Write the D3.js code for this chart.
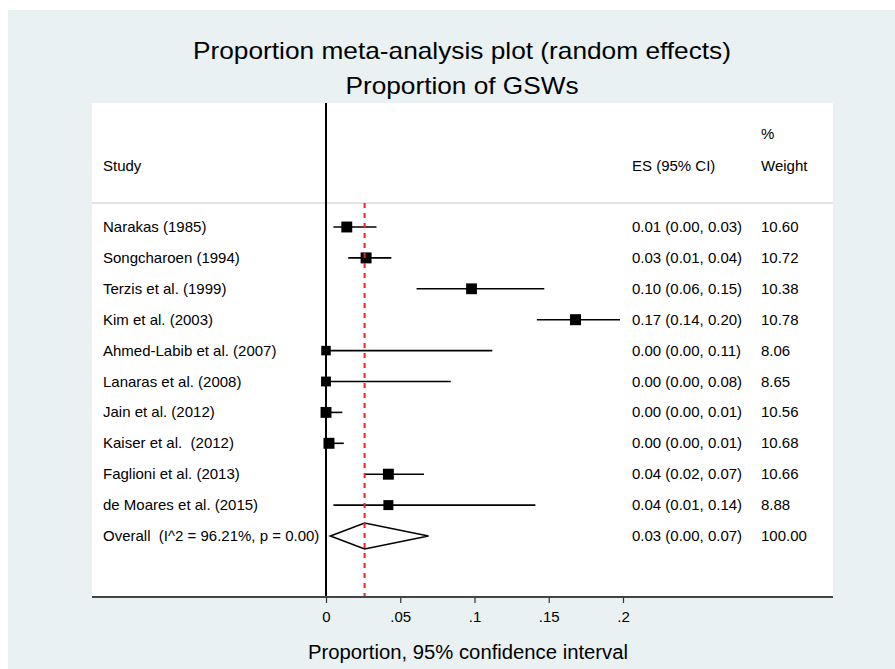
<!DOCTYPE html>
<html>
<head>
<meta charset="utf-8">
<script src="https://cdn.jsdelivr.net/npm/d3@7/dist/d3.min.js"></script>
<style>
  html, body { margin: 0; padding: 0; background: #ffffff; }
  svg { display: block; }
  text { font-family: "Liberation Sans", Arial, sans-serif; fill: #000; white-space: pre; }
</style>
</head>
<body>
<svg id="chart" width="895" height="669"></svg>
<script>
// ---- data ----
const studies = ["Narakas (1985)", "Songcharoen (1994)", "Terzis et al. (1999)", "Kim et al. (2003)",
  "Ahmed-Labib et al. (2007)", "Lanaras et al. (2008)", "Jain et al. (2012)", "Kaiser et al.  (2012)",
  "Faglioni et al. (2013)", "de Moares et al. (2015)"];
const es    = [0.014, 0.027, 0.098, 0.168, 0.000, 0.000, 0.000, 0.002, 0.042, 0.042];
const lower = [0.005, 0.015, 0.061, 0.142, 0.000, 0.000, 0.000, 0.000, 0.026, 0.005];
const upper = [0.034, 0.044, 0.147, 0.198, 0.112, 0.084, 0.011, 0.012, 0.066, 0.141];
const esLabels = ["0.01 (0.00, 0.03)", "0.03 (0.01, 0.04)", "0.10 (0.06, 0.15)", "0.17 (0.14, 0.20)",
  "0.00 (0.00, 0.11)", "0.00 (0.00, 0.08)", "0.00 (0.00, 0.01)", "0.00 (0.00, 0.01)",
  "0.04 (0.02, 0.07)", "0.04 (0.01, 0.14)"];
const weights = ["10.60", "10.72", "10.38", "10.78", "8.06", "8.65", "10.56", "10.68", "10.66", "8.88"];
const overallLabel = "Overall  (I^2 = 96.21%, p = 0.00)";
const overall = { es: 0.026, lower: 0.003, upper: 0.069 };
const overallEsLabel = "0.03 (0.00, 0.07)";
const overallWeight = "100.00";
const xTicks = [0, 0.05, 0.1, 0.15, 0.2];
const xTickLabels = ["0", ".05", ".1", ".15", ".2"];

// ---- layout ----
const svg = d3.select("#chart");
const W = 895, H = 669;
const plot = { left: 92, right: 833, top: 103, bottom: 597 };

svg.append("rect").attr("x", 0).attr("y", 0).attr("width", W).attr("height", H).attr("fill", "#ffffff");
svg.append("rect").attr("x", 8).attr("y", 10).attr("width", W - 8).attr("height", H - 10).attr("fill", "#e9f1f3");
svg.append("rect").attr("x", plot.left).attr("y", plot.top)
  .attr("width", plot.right - plot.left).attr("height", plot.bottom - plot.top).attr("fill", "#ffffff");

// title
svg.append("text").attr("x", 462).attr("y", 59).attr("text-anchor", "middle")
  .attr("font-size", 24).attr("textLength", 538).attr("lengthAdjust", "spacingAndGlyphs")
  .text("Proportion meta-analysis plot (random effects)");
svg.append("text").attr("x", 462).attr("y", 94).attr("text-anchor", "middle")
  .attr("font-size", 24).attr("textLength", 233).attr("lengthAdjust", "spacingAndGlyphs")
  .text("Proportion of GSWs");

const x = d3.scaleLinear().domain([0, 0.2]).range([326, 623]);
const rows = studies.concat([overallLabel]);
const y = d3.scalePoint().domain(d3.range(rows.length)).range([227, 536]);

// header separator
svg.append("line").attr("x1", plot.left).attr("x2", plot.right).attr("y1", 203).attr("y2", 203)
  .attr("stroke", "#c8c8c8").attr("stroke-width", 1.2);

// headers
const fs = 15;
svg.append("text").attr("x", 103).attr("y", 171).attr("font-size", fs).text("Study");
svg.append("text").attr("x", 632).attr("y", 171).attr("font-size", fs).text("ES (95% CI)");
svg.append("text").attr("x", 761).attr("y", 139).attr("font-size", fs).text("%");
svg.append("text").attr("x", 761).attr("y", 171).attr("font-size", fs).text("Weight");

// row labels
rows.forEach((r, i) => {
  svg.append("text").attr("x", 103).attr("y", y(i) + 5).attr("font-size", fs).text(r);
});
esLabels.concat([overallEsLabel]).forEach((r, i) => {
  svg.append("text").attr("x", 632).attr("y", y(i) + 5).attr("font-size", fs).text(r);
});
weights.concat([overallWeight]).forEach((r, i) => {
  svg.append("text").attr("x", 761).attr("y", y(i) + 5).attr("font-size", fs).text(r);
});

// null line at 0
svg.append("line").attr("x1", x(0)).attr("x2", x(0)).attr("y1", plot.top).attr("y2", plot.bottom)
  .attr("stroke", "#000").attr("stroke-width", 2);

// CI lines
studies.forEach((s, i) => {
  svg.append("line").attr("x1", x(lower[i])).attr("x2", x(upper[i]))
    .attr("y1", y(i)).attr("y2", y(i)).attr("stroke", "#000").attr("stroke-width", 1.6);
});

// squares
studies.forEach((s, i) => {
  const side = 11 * Math.sqrt(+weights[i] / 10.78);
  svg.append("rect").attr("x", x(es[i]) - side / 2).attr("y", y(i) - side / 2)
    .attr("width", side).attr("height", side).attr("fill", "#000");
});

// overall diamond
const yo = y(rows.length - 1);
svg.append("path")
  .attr("d", `M${x(overall.lower)},${yo} L${x(overall.es)},${yo - 13} L${x(overall.upper)},${yo} L${x(overall.es)},${yo + 13} Z`)
  .attr("fill", "none").attr("stroke", "#000").attr("stroke-width", 1.6);

// overall dashed line
svg.append("line").attr("x1", x(overall.es)).attr("x2", x(overall.es))
  .attr("y1", 203).attr("y2", plot.bottom)
  .attr("stroke", "#f22020").attr("stroke-width", 2).attr("stroke-dasharray", "5,5");

// x axis
const axisG = svg.append("g").attr("transform", `translate(0,${plot.bottom})`);
axisG.append("line").attr("x1", plot.left).attr("x2", plot.right).attr("y1", 0).attr("y2", 0)
  .attr("stroke", "#444").attr("stroke-width", 2);
const axis = d3.axisBottom(x).tickValues(xTicks).tickFormat((d, i) => xTickLabels[i]).tickSize(6).tickPadding(8);
axisG.call(axis);
axisG.select(".domain").remove();
axisG.selectAll(".tick line").attr("stroke", "#333").attr("stroke-width", 1.2);
axisG.selectAll(".tick text").attr("font-size", 15).attr("font-family", "Liberation Sans, Arial, sans-serif").attr("fill", "#000");

svg.append("text").attr("x", 468).attr("y", 659).attr("text-anchor", "middle")
  .attr("font-size", 20).attr("textLength", 320).attr("lengthAdjust", "spacingAndGlyphs")
  .text("Proportion, 95% confidence interval");
</script>
</body>
</html>
